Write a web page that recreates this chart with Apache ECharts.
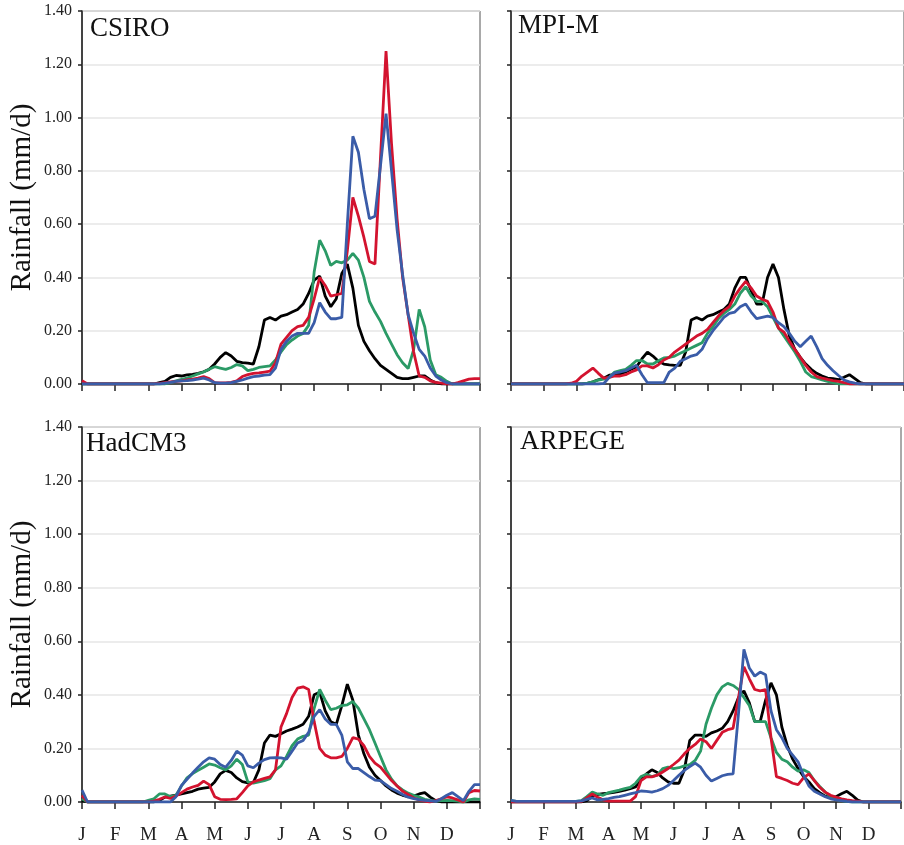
<!DOCTYPE html>
<html>
<head>
<meta charset="utf-8">
<script src="https://cdn.jsdelivr.net/npm/echarts@6/dist/echarts.min.js"></script>
<style>
html,body{margin:0;padding:0;background:#fff;}
#chart{width:904px;height:845px;}
</style>
</head>
<body>
<div id="chart"></div>
<script>
// 月份标签
var months = ['J','F','M','A','M','J','J','A','S','O','N','D'];
var panelNames = ['CSIRO','MPI-M','HadCM3','ARPEGE'];

// one value every 1/6 month (~5 days), 73 values from 1 Jan to 31 Dec
var csiroBlack = [
	0,0,0,0,0,0,0,0,0,0,0,0,
	0,0,0.005,0.01,0.025,0.032,0.03,0.034,0.036,0.04,0.046,0.055,
	0.075,0.1,0.118,0.105,0.085,0.08,0.078,0.075,0.14,0.24,0.25,0.24,
	0.255,0.26,0.27,0.28,0.30,0.34,0.39,0.405,0.33,0.29,0.32,0.415,
	0.45,0.36,0.22,0.16,0.125,0.095,0.07,0.055,0.04,0.025,0.02,0.02,
	0.025,0.03,0.03,0.015,0.005,0,0,0,0,0,0,0,
	0];
var csiroRed = [
	0.012,0,0,0,0,0,0,0,0,0,0,0,
	0,0,0.002,0.005,0.008,0.01,0.012,0.015,0.018,0.022,0.028,0.02,
	0.005,0.004,0.004,0.006,0.012,0.028,0.035,0.04,0.042,0.045,0.048,0.08,
	0.15,0.175,0.2,0.215,0.22,0.25,0.32,0.40,0.37,0.33,0.335,0.34,
	0.50,0.70,0.63,0.55,0.46,0.45,0.85,1.25,0.90,0.62,0.40,0.26,
	0.12,0.03,0.025,0.012,0.006,0.003,0,0,0.005,0.012,0.018,0.02,
	0.02];
var csiroGreen = [
	0,0,0,0,0,0,0,0,0,0,0,0,
	0,0,0,0,0.005,0.012,0.017,0.022,0.03,0.038,0.045,0.055,
	0.065,0.06,0.055,0.062,0.073,0.068,0.05,0.055,0.062,0.065,0.068,0.09,
	0.12,0.148,0.165,0.18,0.19,0.22,0.42,0.54,0.50,0.445,0.46,0.455,
	0.465,0.49,0.465,0.40,0.31,0.27,0.235,0.19,0.15,0.11,0.08,0.058,
	0.13,0.28,0.215,0.09,0.035,0.025,0.01,0,0,0,0,0,
	0];
var csiroBlue = [
	0,0,0,0,0,0,0,0,0,0,0,0,
	0,0,0,0.003,0.006,0.01,0.012,0.013,0.015,0.018,0.022,0.015,
	0.005,0.003,0.003,0.005,0.01,0.015,0.022,0.028,0.03,0.033,0.035,0.06,
	0.13,0.16,0.18,0.19,0.19,0.19,0.23,0.305,0.27,0.245,0.245,0.25,
	0.60,0.93,0.87,0.73,0.62,0.63,0.82,1.015,0.80,0.58,0.41,0.26,
	0.19,0.13,0.105,0.06,0.03,0.015,0.005,0,0,0,0,0,
	0];

var mpiBlack = [
	0,0,0,0,0,0,0,0,0,0,0,0,
	0,0,0.002,0.008,0.016,0.022,0.033,0.035,0.038,0.045,0.055,0.065,
	0.095,0.12,0.105,0.085,0.075,0.072,0.07,0.07,0.12,0.24,0.25,0.24,
	0.255,0.26,0.27,0.28,0.30,0.36,0.40,0.40,0.35,0.30,0.30,0.40,
	0.45,0.40,0.28,0.18,0.13,0.10,0.075,0.055,0.04,0.03,0.022,0.02,
	0.016,0.025,0.035,0.02,0.005,0,0,0,0,0,0,0,
	0];
var mpiRed = [
	0,0,0,0,0,0,0,0,0,0,0,0.003,
	0.01,0.03,0.045,0.06,0.04,0.022,0.025,0.03,0.03,0.035,0.045,0.053,
	0.068,0.068,0.06,0.072,0.09,0.10,0.12,0.135,0.15,0.165,0.18,0.19,
	0.205,0.23,0.255,0.275,0.29,0.33,0.36,0.385,0.36,0.33,0.318,0.31,
	0.27,0.21,0.195,0.16,0.13,0.10,0.07,0.045,0.028,0.022,0.017,0.013,
	0.01,0.005,0,0,0,0,0,0,0,0,0,0,
	0];
var mpiGreen = [
	0,0,0,0,0,0,0,0,0,0,0,0,
	0,0,0.003,0.008,0.015,0.018,0.025,0.045,0.05,0.055,0.07,0.088,
	0.088,0.075,0.075,0.087,0.098,0.10,0.105,0.115,0.125,0.135,0.145,0.155,
	0.19,0.215,0.245,0.265,0.28,0.30,0.34,0.365,0.33,0.31,0.31,0.29,
	0.25,0.21,0.18,0.15,0.12,0.085,0.045,0.028,0.022,0.015,0.01,0.005,
	0,0,0,0,0,0,0,0,0,0,0,0,
	0];
var mpiBlue = [
	0,0,0,0,0,0,0,0,0,0,0,0,
	0,0,0,0,0,0.002,0.025,0.042,0.045,0.05,0.06,0.07,
	0.035,0.005,0.005,0.005,0.005,0.045,0.06,0.085,0.095,0.105,0.11,0.13,
	0.17,0.20,0.225,0.25,0.265,0.27,0.29,0.30,0.27,0.245,0.25,0.255,
	0.25,0.23,0.215,0.19,0.16,0.14,0.16,0.18,0.14,0.095,0.07,0.05,
	0.032,0.015,0.008,0.003,0,0,0,0,0,0,0,0,
	0];

var hadBlack = [
	0.005,0,0,0,0,0,0,0,0,0,0,0,
	0,0,0.005,0.018,0.022,0.026,0.03,0.035,0.04,0.048,0.052,0.055,
	0.075,0.105,0.118,0.11,0.09,0.076,0.071,0.073,0.12,0.22,0.25,0.245,
	0.255,0.265,0.272,0.28,0.29,0.32,0.40,0.41,0.34,0.30,0.29,0.36,
	0.44,0.38,0.25,0.18,0.13,0.10,0.08,0.06,0.045,0.033,0.025,0.02,
	0.022,0.03,0.035,0.018,0.005,0,0,0,0,0,0,0,
	0];
var hadRed = [
	0.025,0,0,0,0,0,0,0,0,0,0,0,
	0,0.003,0.01,0.019,0.013,0.022,0.035,0.048,0.056,0.062,0.078,0.065,
	0.02,0.01,0.009,0.01,0.012,0.035,0.06,0.075,0.082,0.088,0.094,0.12,
	0.28,0.33,0.39,0.425,0.43,0.42,0.30,0.20,0.175,0.165,0.165,0.17,
	0.20,0.24,0.235,0.21,0.17,0.145,0.13,0.105,0.08,0.06,0.04,0.028,
	0.015,0.008,0.003,0,0.005,0.012,0.019,0.015,0.008,0,0.035,0.043,
	0.041];
var hadGreen = [
	0.012,0,0,0,0,0,0,0,0,0,0,0,
	0.006,0.012,0.03,0.03,0.02,0.025,0.06,0.09,0.106,0.118,0.13,0.142,
	0.138,0.128,0.12,0.135,0.16,0.14,0.075,0.07,0.075,0.08,0.087,0.12,
	0.135,0.17,0.21,0.235,0.245,0.25,0.35,0.42,0.38,0.345,0.35,0.36,
	0.363,0.375,0.35,0.31,0.27,0.22,0.17,0.12,0.085,0.06,0.045,0.033,
	0.025,0.018,0.01,0.006,0.003,0.005,0.006,0.005,0.003,0,0.008,0.012,
	0.01];
var hadBlue = [
	0.044,0,0,0,0,0,0,0,0,0,0,0,
	0,0,0,0,0,0.02,0.062,0.085,0.108,0.13,0.15,0.165,
	0.16,0.14,0.13,0.155,0.19,0.175,0.135,0.128,0.145,0.158,0.165,0.166,
	0.165,0.16,0.19,0.22,0.23,0.26,0.32,0.345,0.31,0.29,0.29,0.25,
	0.15,0.125,0.125,0.11,0.095,0.082,0.08,0.065,0.05,0.04,0.028,0.018,
	0.013,0.009,0.006,0.004,0.002,0.012,0.025,0.035,0.02,0.005,0.04,0.065,
	0.065];

var arpBlack = [
	0,0,0,0,0,0,0,0,0,0,0,0,
	0,0,0.005,0.022,0.028,0.031,0.033,0.036,0.04,0.044,0.05,0.056,
	0.085,0.105,0.12,0.11,0.09,0.075,0.07,0.07,0.12,0.23,0.25,0.25,
	0.245,0.258,0.265,0.275,0.30,0.34,0.39,0.415,0.37,0.30,0.30,0.38,
	0.445,0.40,0.28,0.21,0.16,0.125,0.095,0.075,0.05,0.035,0.022,0.019,
	0.02,0.031,0.04,0.025,0.007,0,0,0,0,0,0,0,
	0];
var arpRed = [
	0,0,0,0,0,0,0,0,0,0,0,0,
	0,0.002,0.015,0.03,0.018,0.008,0.003,0.003,0.003,0.003,0.003,0.02,
	0.08,0.094,0.094,0.1,0.112,0.125,0.14,0.156,0.18,0.2,0.215,0.235,
	0.225,0.2,0.23,0.26,0.27,0.275,0.39,0.505,0.46,0.42,0.415,0.42,
	0.24,0.095,0.088,0.08,0.07,0.065,0.09,0.105,0.08,0.055,0.037,0.025,
	0.018,0.012,0.008,0.005,0.003,0,0,0,0,0,0,0,
	0];
var arpGreen = [
	0.005,0.002,0.002,0.002,0.002,0.002,0.002,0.002,0.002,0.002,0.002,0.002,
	0.002,0.005,0.02,0.037,0.03,0.025,0.035,0.04,0.044,0.05,0.055,0.07,
	0.095,0.103,0.095,0.1,0.125,0.13,0.125,0.128,0.135,0.14,0.155,0.19,
	0.29,0.35,0.40,0.43,0.443,0.435,0.42,0.39,0.36,0.30,0.30,0.30,
	0.24,0.185,0.16,0.15,0.13,0.115,0.12,0.11,0.08,0.058,0.037,0.02,
	0.01,0.005,0.002,0,0,0,0,0,0,0,0,0,
	0];
var arpBlue = [
	0.006,0.002,0.002,0.002,0.002,0.002,0.002,0.002,0.002,0.002,0.002,0.002,
	0.002,0.004,0.01,0.015,0.008,0.01,0.013,0.017,0.02,0.025,0.03,0.035,
	0.041,0.04,0.037,0.042,0.05,0.062,0.08,0.1,0.118,0.132,0.145,0.13,
	0.1,0.078,0.088,0.098,0.103,0.105,0.33,0.57,0.5,0.47,0.485,0.475,
	0.34,0.27,0.24,0.20,0.175,0.15,0.10,0.06,0.04,0.03,0.02,0.012,
	0.008,0.005,0.002,0,0,0,0,0,0,0,0,0,
	0];

var panelData = [
	[csiroBlack, csiroGreen, csiroRed, csiroBlue],
	[mpiBlack, mpiGreen, mpiRed, mpiBlue],
	[hadBlack, hadGreen, hadRed, hadBlue],
	[arpBlack, arpGreen, arpRed, arpBlue]
];
var lineColors = ['#000000', '#2b9a66', '#d3132f', '#3a5ca8'];
var serif = 'Liberation Serif';

var grids = [
	{left:82, top:11, width:398, height:373},
	{left:511, top:11, width:398, height:373},
	{left:82, top:427, width:398, height:375},
	{left:511, top:427, width:398, height:375}
];
var titlePos = [[90,15],[518,12],[86,430],[520,428]];

function toPoints(arr){
	var out = [];
	for(var i = 0; i < arr.length; i++){
		out.push([i/6, arr[i]]);
	}
	return out;
}

var option = {
	animation:false,
	backgroundColor:'#fff',
	title:[],
	grid:[],
	xAxis:[],
	yAxis:[],
	series:[]
};

for(var k = 0; k < 4; k++){
	var g = grids[k];
	option.grid.push({
		left:g.left, top:g.top, width:g.width, height:g.height,
		show:true, borderColor:'#555', borderWidth:1, backgroundColor:'transparent'
	});
	option.title.push({
		text:panelNames[k],
		left:titlePos[k][0], top:titlePos[k][1], padding:0,
		textStyle:{fontFamily:serif, fontWeight:'normal', fontSize:27, color:'#111'}
	});
	option.xAxis.push({
		type:'value', gridIndex:k, min:0, max:12, interval:1,
		axisLine:{lineStyle:{color:'#222', width:1.5}},
		axisTick:{show:true, inside:false, length:7, lineStyle:{color:'#222', width:1.5}},
		axisLabel:{
			show:k >= 2, margin:24, fontFamily:serif, fontSize:19, color:'#222',
			formatter:function(v){ return months[Math.round(v)] || ''; }
		},
		splitLine:{show:false}
	});
	var yAx = {
		type:'value', gridIndex:k, min:0, max:1.4, interval:0.2,
		axisLine:{show:true, lineStyle:{color:'#222', width:1.5}},
		axisTick:{show:true, inside:false, length:4, lineStyle:{color:'#222', width:1.5}},
		axisLabel:{
			show:k % 2 == 0, margin:10, fontFamily:serif, fontSize:16, color:'#222',
			formatter:function(v){ return v.toFixed(2); }
		},
		splitLine:{show:true, lineStyle:{color:'#e6e6e6', width:1.5}}
	};
	if(k % 2 == 0){
		yAx.name = 'Rainfall (mm/d)';
		yAx.nameLocation = 'middle';
		yAx.nameGap = 45;
		yAx.nameTextStyle = {fontFamily:serif, fontSize:29, color:'#111'};
	}
	option.yAxis.push(yAx);
	for(var s = 0; s < 4; s++){
		option.series.push({
			type:'line', xAxisIndex:k, yAxisIndex:k,
			showSymbol:false, symbol:'none', smooth:false,
			lineStyle:{color:lineColors[s], width:2.8},
			itemStyle:{color:lineColors[s]},
			data:toPoints(panelData[k][s])
		});
	}
}

var chart = echarts.init(document.getElementById('chart'));
chart.setOption(option);
</script>
</body>
</html>
